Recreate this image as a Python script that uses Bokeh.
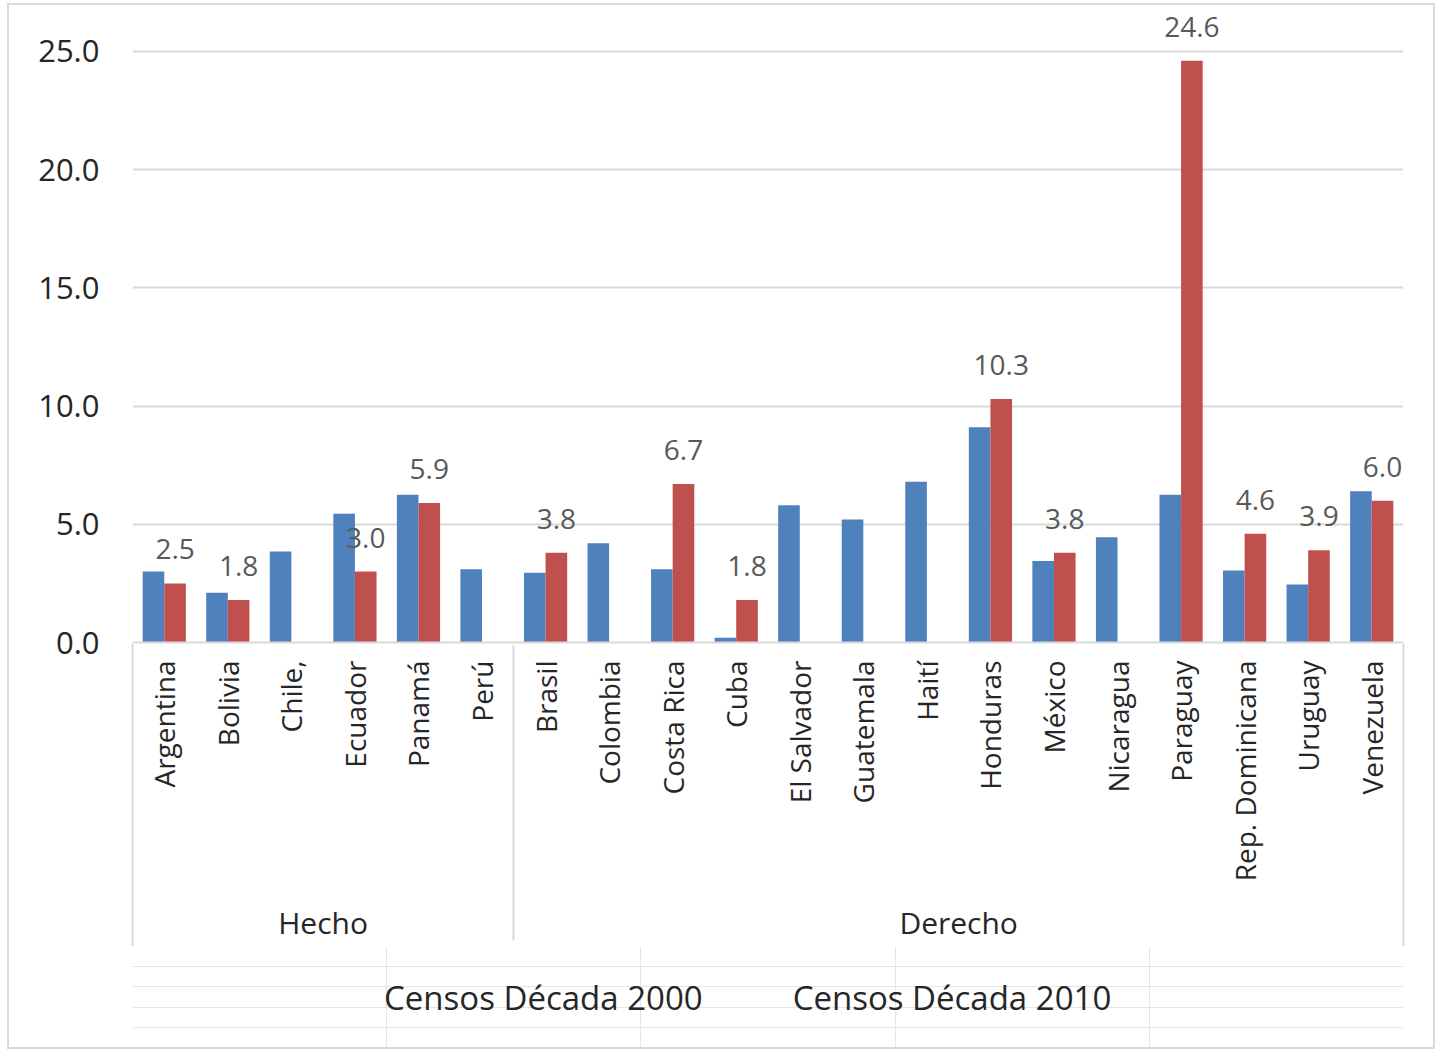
import math
from bokeh.plotting import figure
from bokeh.layouts import column
from bokeh.models import (FactorRange, Range1d, ColumnDataSource, CategoricalAxis,
                          SingleIntervalTicker, NumeralTickFormatter, Legend, LegendItem)
from bokeh.transform import dodge
from bokeh.core.properties import value
from bokeh.embed import file_html
from bokeh.resources import INLINE

groups = ["Hecho"] * 6 + ["Derecho"] * 14
countries = ["Argentina", "Bolivia", "Chile,", "Ecuador", "Panamá", "Perú",
             "Brasil", "Colombia", "Costa Rica", "Cuba", "El Salvador", "Guatemala",
             "Haití", "Honduras", "México", "Nicaragua", "Paraguay", "Rep. Dominicana",
             "Uruguay", "Venezuela"]
censos_2000 = [3.0, 2.1, 3.85, 5.45, 6.25, 3.1, 2.95, 4.2, 3.1, 0.2, 5.8, 5.2,
               6.8, 9.1, 3.45, 4.45, 6.25, 3.05, 2.45, 6.4]
censos_2010 = [2.5, 1.8, None, 3.0, 5.9, None, 3.8, None, 6.7, 1.8, None, None,
               None, 10.3, 3.8, None, 24.6, 4.6, 3.9, 6.0]
series_names = ["Censos Década 2000", "Censos Década 2010"]
colors = ["#4F81BD", "#C0504D"]

FONT = "Open Sans"

factors = list(zip(groups, countries))
src_a = ColumnDataSource(dict(x=factors, top=censos_2000))
idx_b = [i for i, v in enumerate(censos_2010) if v is not None]
src_b = ColumnDataSource(dict(x=[factors[i] for i in idx_b],
                              top=[censos_2010[i] for i in idx_b],
                              label=["%.1f" % censos_2010[i] for i in idx_b]))

x_range = FactorRange(*factors, group_padding=0, factor_padding=0, range_padding=0)
p = figure(x_range=x_range, y_range=Range1d(0, 26.73), frame_width=1271, frame_height=632,
           output_backend="svg", toolbar_location=None,
           min_border_left=123, min_border_right=30, min_border_top=5, min_border_bottom=0)
p.outline_line_color = None
# two pseudo-factors whose centres fall (just inside) the left and right edges of the frame
p.extra_x_ranges = {"edges": FactorRange("L", "R", range_padding=-0.4999,
                                         range_padding_units="absolute")}

bw = 0.34
ra = p.vbar(x=dodge("x", -bw / 2, range=p.x_range), top="top", width=bw, source=src_a,
            fill_color=colors[0], line_color=None)
rb = p.vbar(x=dodge("x", bw / 2, range=p.x_range), top="top", width=bw, source=src_b,
            fill_color=colors[1], line_color=None)
p.text(x=dodge("x", bw / 2, range=p.x_range), y="top", text="label", source=src_b,
       text_align="center", text_baseline="alphabetic", y_offset=-34,
       text_font=value(FONT), text_font_size="28px", text_color="#595959")

# y axis
yax = p.yaxis[0]
yax.ticker = SingleIntervalTicker(interval=5)
yax.formatter = NumeralTickFormatter(format="0.0")
yax.axis_line_color = None
yax.major_tick_line_color = None
yax.minor_tick_line_color = None
yax.major_label_standoff = 27
yax.major_label_text_font = FONT
yax.major_label_text_font_size = "31px"
yax.major_label_text_color = "#262626"

p.xgrid.grid_line_color = None
p.ygrid.grid_line_color = "#d9d9d9"
p.ygrid.grid_line_width = 2

# x axis (categorical)
xax = p.xaxis[0]
xax.axis_line_color = "#d9d9d9"
xax.axis_line_width = 2
xax.major_tick_line_color = None
xax.major_tick_out = 0
xax.major_tick_in = 0
xax.major_label_standoff = 18
xax.major_label_orientation = math.pi / 2
xax.major_label_text_font = FONT
xax.major_label_text_font_size = "28px"
xax.major_label_text_color = "#262626"
xax.group_label_orientation = "horizontal"
xax.group_text_font = FONT
xax.group_text_font_size = "30px"
xax.group_text_font_style = "normal"
xax.group_text_color = "#262626"
xax.separator_line_color = "#d9d9d9"
xax.separator_line_width = 2

# outer separators of the category axis
edge_axis = CategoricalAxis(x_range_name="edges", major_tick_in=303, major_tick_out=0,
                            major_tick_line_color="#d9d9d9", major_tick_line_width=2,
                            axis_line_color=None, major_label_text_font_size="1px",
                            major_label_text_alpha=0, major_label_standoff=0)
p.add_layout(edge_axis, "below")

# legend strip underneath the chart
p2 = figure(x_range=Range1d(0, 1), y_range=Range1d(0, 1), frame_width=1271, frame_height=101,
            output_backend="svg", toolbar_location=None,
            x_axis_location=None, y_axis_location=None,
            min_border_left=123, min_border_right=30, min_border_top=0, min_border_bottom=0)
p2.outline_line_color = None
la = p2.vbar(x=[], top=[], width=0.1, fill_color=colors[0], line_color=None)
lb = p2.vbar(x=[], top=[], width=0.1, fill_color=colors[1], line_color=None)
legend = Legend(items=[LegendItem(label=series_names[0], renderers=[la]),
                       LegendItem(label=series_names[1], renderers=[lb])],
                orientation="horizontal", location="left",
                label_text_font=FONT, label_text_font_size="33px", label_text_color="#262626",
                glyph_width=18, glyph_height=18, label_standoff=14, spacing=58,
                border_line_color=None, background_fill_alpha=0, margin=220, padding=0)
p2.add_layout(legend)

layout = column(p, p2, spacing=0)
layout.styles = {"border": "2px solid #d9d9d9", "margin-left": "7px", "margin-top": "3px"}

open("out.html", "w").write(file_html(layout, INLINE))
